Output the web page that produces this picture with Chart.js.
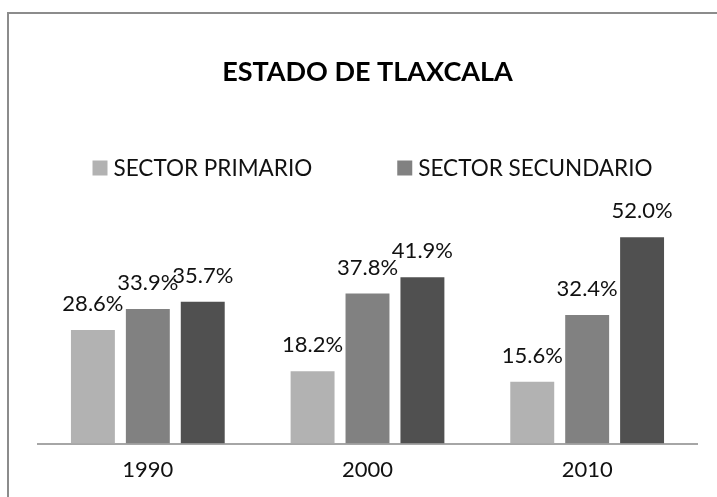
<!DOCTYPE html>
<html>
<head>
<meta charset="utf-8">
<script src="https://cdn.jsdelivr.net/npm/chart.js@4.4.1/dist/chart.umd.min.js"></script>
<style>
    html, body { margin: 0; padding: 0; background: #fff; }
    #chartBox { width: 717px; height: 497px; }
</style>
</head>
<body>
<div id="chartBox"><canvas id="chartSectores"></canvas></div>
<script>
let years = ["1990", "2000", "2010"];
let seriesNames = ["SECTOR PRIMARIO", "SECTOR SECUNDARIO", "SECTOR TERCIARIO"];
let primario = [28.6, 18.2, 15.6];
let secundario = [33.9, 37.8, 32.4];
let terciario = [35.7, 41.9, 52.0];
let colors = ["#b2b2b2", "#818181", "#505050"];
let legendShown = 2;

let fontName = "Lato, 'Open Sans', sans-serif";

// frame around the chart
const framePlugin = {
    id: "frame",
    beforeDraw(chart) {
        const c = chart.ctx;
        c.save();
        c.fillStyle = "#fff";
        c.fillRect(0, 0, chart.width, chart.height);
        c.strokeStyle = "#8c8c8c";
        c.lineWidth = 2;
        c.strokeRect(8, 13, chart.width + 20, chart.height + 20);
        c.restore();
    },
};

// value labels above each bar
const valueLabels = {
    id: "valueLabels",
    afterDatasetsDraw(chart) {
        const c = chart.ctx;
        c.save();
        c.font = "22px " + fontName;
        c.fillStyle = "#111";
        c.textAlign = "center";
        c.textBaseline = "alphabetic";
        chart.data.datasets.forEach((ds, i) => {
            chart.getDatasetMeta(i).data.forEach((bar, j) => {
                c.fillText(ds.data[j].toFixed(1) + "%", bar.x, bar.y - 19);
            });
        });
        c.restore();
    },
};

// legend row under the title
const legendRow = {
    id: "legendRow",
    afterDraw(chart) {
        const c = chart.ctx;
        const box = 15, textGap = 6, itemGap = 85;
        c.save();
        c.font = "22.5px " + fontName;
        c.textBaseline = "middle";
        const items = chart.data.datasets.slice(0, legendShown);
        const widths = items.map((ds) => box + textGap + c.measureText(ds.label).width);
        const total = widths.reduce((a, b) => a + b, 0) + itemGap * (items.length - 1);
        const area = chart.chartArea;
        let x = (area.left + area.right) / 2 + 5 - total / 2;
        const y = 168;
        items.forEach((ds, i) => {
            c.fillStyle = ds.backgroundColor;
            c.fillRect(x, y - box / 2, box, box);
            c.fillStyle = "#111";
            c.fillText(ds.label, x + box + textGap, y + 1);
            x += widths[i] + itemGap;
        });
        c.restore();
    },
};

let ctx = document.getElementById("chartSectores").getContext("2d");
let myChart = new Chart(ctx, {
    type: "bar",
    data: {
        labels: years,
        datasets: [
            { label: seriesNames[0], data: primario, backgroundColor: colors[0] },
            { label: seriesNames[1], data: secundario, backgroundColor: colors[1] },
            { label: seriesNames[2], data: terciario, backgroundColor: colors[2] },
        ],
    },
    options: {
        responsive: true,
        maintainAspectRatio: false,
        animation: false,
        layout: {
            padding: { left: 38, right: 20, top: 0, bottom: 1 },
        },
        datasets: {
            bar: { categoryPercentage: 0.75, barPercentage: 0.8 },
        },
        plugins: {
            legend: { display: false },
            tooltip: { enabled: false },
            title: {
                display: true,
                text: "ESTADO DE TLAXCALA",
                color: "#000",
                font: { family: fontName, size: 27, weight: "bold", lineHeight: 1.2 },
                padding: { top: 56, bottom: 117 },
            },
        },
        scales: {
            x: {
                grid: { display: false, drawTicks: false },
                border: { display: true, color: "#a6a6a6", width: 2 },
                ticks: {
                    color: "#111",
                    padding: 13,
                    font: { family: fontName, size: 22 },
                },
            },
            y: {
                display: false,
                min: 0,
                max: 60,
            },
        },
    },
    plugins: [framePlugin, valueLabels, legendRow],
});
</script>
</body>
</html>
